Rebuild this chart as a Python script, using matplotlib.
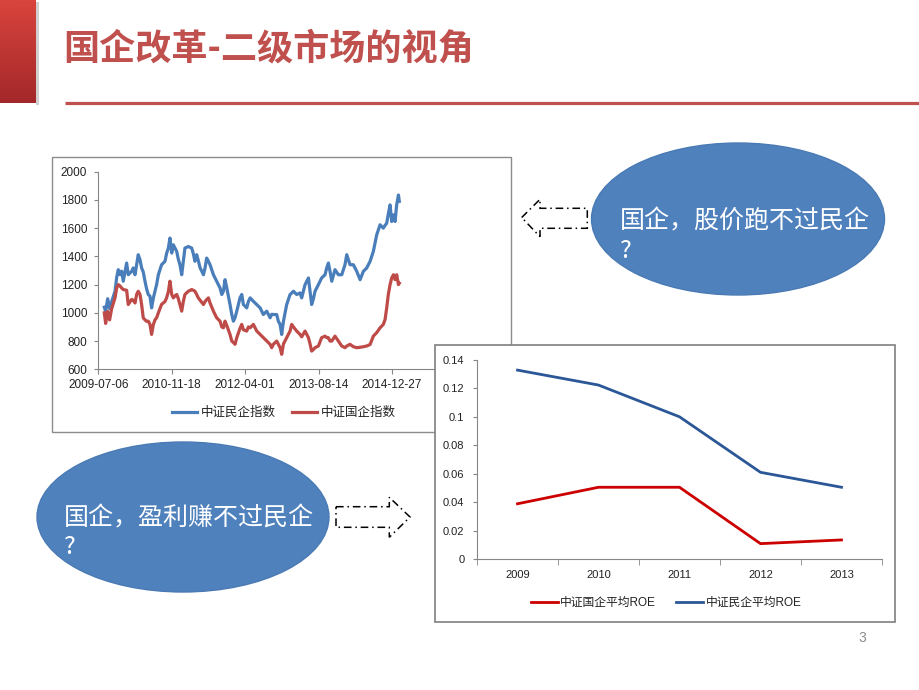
import numpy as np
import pandas as pd
import matplotlib
matplotlib.use('Agg')
import matplotlib.pyplot as plt
from matplotlib.patches import Ellipse, Polygon, Rectangle
from matplotlib.colors import LinearSegmentedColormap

W, H = 920, 690

# 中证民企指数 / 中证国企指数 (读图估计, 以 2009-07-06 起的天数为横轴)
start_date = '2009-07-06'
day_offsets = [41, 50, 64, 77, 91, 114, 125, 136, 148, 159,
               170, 193, 204, 227, 238, 250, 261, 272, 284, 295,
               306, 318, 329, 340, 352, 363, 375, 386, 397, 409,
               431, 454, 465, 477, 488, 500, 511, 522, 534, 545,
               556, 568, 579, 590, 613, 636, 647, 658, 670, 681,
               693, 716, 727, 738, 750, 761, 784, 806, 829, 841,
               852, 863, 875, 897, 909, 920, 931, 943, 965, 977,
               988, 1011, 1022, 1034, 1056, 1079, 1102, 1124, 1147, 1170,
               1181, 1192, 1215, 1226, 1238, 1249, 1261, 1283, 1306, 1317,
               1329, 1351, 1374, 1385, 1408, 1431, 1442, 1453, 1465, 1476,
               1499, 1521, 1544, 1556, 1567, 1578, 1590, 1612, 1635, 1658,
               1680, 1692, 1714, 1737, 1760, 1783, 1805, 1828, 1851, 1873,
               1896, 1919, 1941, 1953, 1964, 1975, 1987, 1998, 2010, 2021,
               2032, 2044, 2050]
private_idx = [1040, 1010, 1100, 1030, 1080, 1153, 1250, 1306, 1270, 1295,
               1224, 1353, 1270, 1294, 1318, 1270, 1341, 1412, 1376, 1318,
               1290, 1224, 1170, 1130, 1118, 1035, 1106, 1153, 1200, 1270,
               1341, 1365, 1420, 1459, 1530, 1424, 1482, 1460, 1435, 1380,
               1341, 1270, 1365, 1459, 1470, 1459, 1420, 1365, 1412, 1370,
               1320, 1270, 1318, 1388, 1365, 1341, 1270, 1224, 1176, 1130,
               1153, 1235, 1176, 1059, 988, 941, 965, 1012, 1106, 1130,
               1059, 1035, 1080, 1106, 1082, 1059, 1035, 988, 1012, 965,
               990, 988, 988, 941, 918, 847, 941, 1059, 1130, 1140,
               1153, 1130, 1141, 1106, 1200, 1247, 1153, 1059, 1100, 1153,
               1200, 1247, 1270, 1320, 1353, 1294, 1224, 1306, 1270, 1270,
               1341, 1412, 1341, 1341, 1294, 1235, 1294, 1318, 1365, 1435,
               1553, 1624, 1600, 1620, 1635, 1700, 1765, 1647, 1694, 1647,
               1765, 1835, 1790]
state_idx = [1000, 925, 1010, 950, 1030, 1106, 1176, 1200, 1190, 1176,
             1165, 1160, 1059, 1095, 1090, 1070, 1130, 1153, 1130, 1059,
             965, 950, 940, 941, 918, 847, 918, 950, 965, 1000,
             1060, 1080, 1106, 1150, 1224, 1130, 1106, 1120, 1130, 1100,
             1059, 1012, 1080, 1130, 1153, 1165, 1160, 1153, 1130, 1106,
             1090, 1059, 1080, 1094, 1106, 1070, 1012, 965, 941, 900,
             894, 941, 910, 847, 800, 790, 777, 824, 890, 918,
             880, 871, 900, 894, 918, 871, 847, 824, 800, 777,
             753, 777, 800, 777, 753, 706, 780, 824, 871, 918,
             900, 871, 847, 830, 871, 824, 780, 729, 740, 753,
             765, 824, 835, 824, 824, 800, 800, 835, 800, 765,
             753, 765, 777, 760, 753, 756, 760, 765, 776, 835,
             860, 894, 918, 953, 1035, 1130, 1200, 1247, 1270, 1235,
             1270, 1200, 1210]
date_ticks = ['2009-07-06', '2010-11-18', '2012-04-01', '2013-08-14', '2014-12-27']

# 平均ROE
years = ['2009', '2010', '2011', '2012', '2013']
soe_roe = [0.039, 0.0506, 0.0506, 0.011, 0.0136]
poe_roe = [0.1329, 0.1224, 0.1001, 0.0611, 0.0506]

plt.rcParams['font.family'] = ['Liberation Sans', 'Noto Sans CJK SC']
CJK = ['Noto Sans CJK SC', 'DejaVu Sans']

fig = plt.figure(figsize=(9.2, 6.9), dpi=100)


def box(x0, y0, x1, y1):
    return [x0 / W, 1 - y1 / H, (x1 - x0) / W, (y1 - y0) / H]


def overlay(z):
    a = fig.add_axes([0, 0, 1, 1], zorder=z)
    a.patch.set_alpha(0)
    a.axis('off')
    return a


def fix(a):
    a.set_xlim(0, W)
    a.set_ylim(H, 0)


# 背景: 左侧红条, 标题, 分隔线, 图1外框
bg = overlay(0)
bar_cmap = LinearSegmentedColormap.from_list('bar', ['#d9443d', '#a3282a'])
bg.add_patch(Rectangle((36, 2), 3, 103, color='#d0d0d0', lw=0))
bg.imshow(np.linspace(0, 1, 100).reshape(-1, 1), extent=[0, 36, 103, 0],
          cmap=bar_cmap, aspect='auto')
bg.text(63, 49, '国企改革-二级市场的视角', fontsize=26, fontweight='bold',
        color='#c0504d', va='center', ha='left', family=CJK)
bg.plot([65, 920], [103, 103], color='#c0504d', lw=2.3, solid_capstyle='butt')
bg.add_patch(Rectangle((52, 157), 459, 275, fc='white', ec='#8c8c8c', lw=1))
fix(bg)

# 图1: 指数走势
base = pd.Timestamp(start_date)
dates = base + pd.to_timedelta(day_offsets, unit='D')
ax1 = fig.add_axes(box(98.3, 171.7, 465.4, 369.3), zorder=1)
ax1.patch.set_alpha(0)
ax1.plot(dates, private_idx, color='#4a7ebb', lw=2.3, label='中证民企指数')
ax1.plot(dates, state_idx, color='#be4b48', lw=2.3, label='中证国企指数')
ax1.set_xlim(base, base + pd.Timedelta(days=2500))
ax1.set_ylim(600, 2000)
ax1.set_yticks(range(600, 2001, 200))
ax1.set_xticks(pd.to_datetime(date_ticks), date_ticks)
for s in ['top', 'right']:
    ax1.spines[s].set_visible(False)
for s in ['left', 'bottom']:
    ax1.spines[s].set_color('#868686')
ax1.tick_params(axis='y', length=3, pad=5, color='#868686', labelsize=8.5, labelcolor='#222222')
ax1.tick_params(axis='x', length=3.5, pad=3.5, color='#868686', labelsize=8.5, labelcolor='#222222')
ax1.legend(loc='center', bbox_to_anchor=(284 / W, 1 - 413 / H), bbox_transform=fig.transFigure,
           ncol=2, frameon=False, fontsize=9, handlelength=2.0, handletextpad=0.3,
           columnspacing=1.3, labelcolor='#222222')

# 图2外框 (盖住图1右下角)
f2 = overlay(2)
f2.add_patch(Rectangle((435, 345), 460, 277, fc='white', ec='#7f7f7f', lw=1.2))
fix(f2)

# 图2: ROE
pos = np.arange(len(years))
ax2 = fig.add_axes(box(477, 360, 882, 559.3), zorder=3)
ax2.patch.set_alpha(0)
ax2.plot(pos, soe_roe, color='#cc0000', lw=2.0, label='中证国企平均ROE')
ax2.plot(pos, poe_roe, color='#2b5797', lw=2.0, label='中证民企平均ROE')
ax2.set_xlim(-0.5, len(years) - 0.5)
ax2.set_ylim(0, 0.14)
yt = np.round(np.arange(0, 0.141, 0.02), 2)
ax2.set_yticks(yt, [f'{v:g}' for v in yt])
ax2.set_xticks(pos, years)
ax2.set_xticks(np.arange(-0.5, len(years), 1), minor=True)
for s in ['top', 'right']:
    ax2.spines[s].set_visible(False)
for s in ['left', 'bottom']:
    ax2.spines[s].set_color('#868686')
ax2.tick_params(axis='x', which='major', length=0, pad=8, labelsize=8, labelcolor='#222222')
ax2.tick_params(axis='x', which='minor', length=4, color='#868686')
ax2.tick_params(axis='y', length=3, pad=6, color='#868686', labelsize=8, labelcolor='#222222')
ax2.legend(loc='center', bbox_to_anchor=(666 / W, 1 - 603 / H), bbox_transform=fig.transFigure,
           ncol=2, frameon=False, fontsize=8.5, handlelength=2.3, handletextpad=0.2,
           columnspacing=1.7, labelcolor='#222222')

# 椭圆与箭头
top = overlay(4)
top.add_patch(Ellipse((738, 219), 293, 152, fc='#4f81bd', ec='#4a7ab4', lw=1))
top.add_patch(Ellipse((183, 517), 292, 150, fc='#4f81bd', ec='#4a7ab4', lw=1))
for x, y, s in [(620, 221, '国企，股价跑不过民企'), (620, 251, '?'),
                (64, 518, '国企，盈利赚不过民企'), (64, 547, '?')]:
    top.text(x, y, s, fontsize=18, color='white', va='center', ha='left',
             family=CJK, zorder=5)

dash = (0, (5, 2.5, 1, 2.5))
left_arrow = [(521.7, 217.5), (540, 199.3), (540, 208.3), (587.3, 208.3),
              (587.3, 228.3), (540, 228.3), (540, 236.7)]
right_arrow = [(336, 506.7), (389.3, 506.7), (389.3, 497.3), (410, 517),
               (389.3, 537.3), (389.3, 527.3), (336, 527.3)]
top.add_patch(Polygon(left_arrow, closed=True, fill=False, ec='black', lw=1.1, ls=dash))
top.add_patch(Polygon(right_arrow, closed=True, fill=False, ec='black', lw=1.1, ls=dash))

top.text(862, 638, '3', fontsize=10, color='#8c8c8c', ha='center', va='center')
fix(top)

fig.savefig('out.png', dpi=100)
